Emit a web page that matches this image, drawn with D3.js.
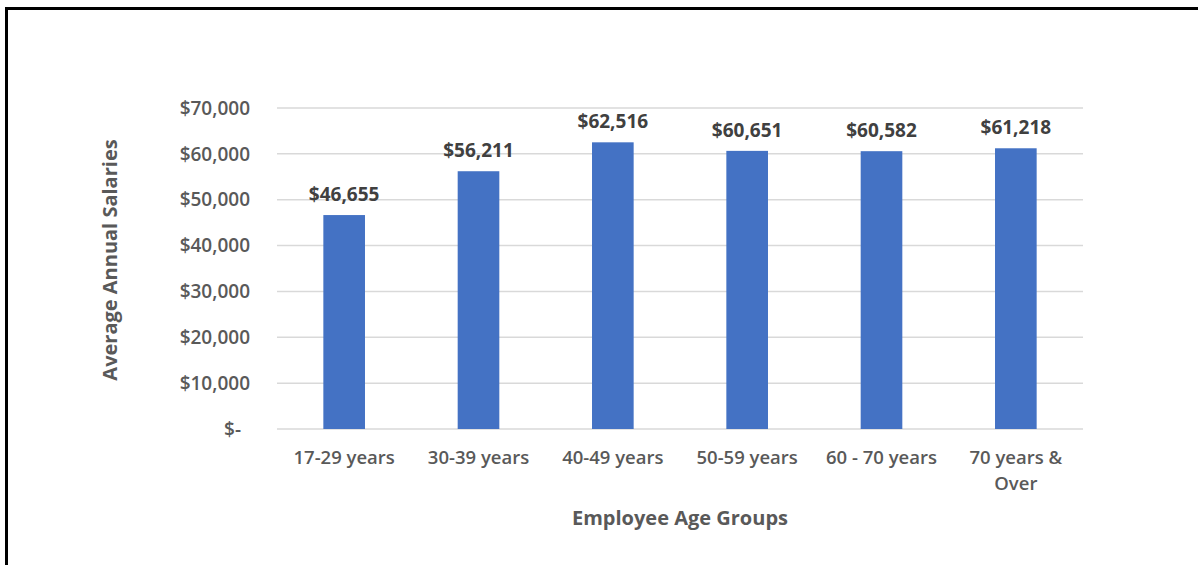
<!DOCTYPE html>
<html>
<head>
<meta charset="utf-8">
<script src="https://cdn.jsdelivr.net/npm/d3@7"></script>
<style>
  body { margin: 0; background: #fff; }
  svg { display: block; font-family: "Open Sans", sans-serif; }
</style>
</head>
<body>
<svg></svg>
<script>
var width = 1198;
var height = 565;

// chart data
var ageGroups = ["17-29 years", "30-39 years", "40-49 years", "50-59 years", "60 - 70 years", "70 years & Over"];
var salaries = [46655, 56211, 62516, 60651, 60582, 61218];
var yTicks = [0, 10000, 20000, 30000, 40000, 50000, 60000, 70000];

var svg = d3.select("svg")
    .attr("width", width)
    .attr("height", height);

// frame (top + left edges visible)
svg.append("line").attr("x1", 5).attr("x2", width).attr("y1", 8.5).attr("y2", 8.5)
    .style("stroke", "#000").style("stroke-width", 3);
svg.append("line").attr("x1", 6.5).attr("x2", 6.5).attr("y1", 7).attr("y2", height)
    .style("stroke", "#000").style("stroke-width", 3);

var plot = { left: 277, right: 1083, top: 108, bottom: 429 };

var x = d3.scaleBand()
    .domain(ageGroups)
    .range([plot.left, plot.right])
    .padding(0);

var y = d3.scaleLinear()
    .domain([0, 70000])
    .range([plot.bottom, plot.top]);

var barW = x.bandwidth() * 0.31;

var fmt = d3.format(",d");
function money(v) { return v === 0 ? "$-" : "$" + fmt(v); }

// gridlines
var g = svg.append("g");
g.selectAll(".grid")
    .data(yTicks)
    .enter().append("line")
    .attr("class", "grid")
    .attr("x1", plot.left)
    .attr("x2", plot.right)
    .attr("y1", function(d) { return y(d); })
    .attr("y2", function(d) { return y(d); })
    .style("stroke", "#d9d9d9")
    .style("stroke-width", 1.5);

// y tick labels
g.selectAll(".ylab")
    .data(yTicks)
    .enter().append("text")
    .attr("class", "ylab")
    .attr("x", function(d) { return d === 0 ? 241 : 250; })
    .attr("y", function(d) { return y(d); })
    .attr("dy", "0.35em")
    .attr("text-anchor", "end")
    .style("font-size", "19px")
    .style("font-weight", 600)
    .style("fill", "#595959")
    .text(money);

// bars
var bars = g.selectAll(".bar")
    .data(salaries)
    .enter().append("g")
    .attr("class", "bar");

bars.append("rect")
    .attr("x", function(d, i) { return x(ageGroups[i]) + x.bandwidth() / 2 - barW / 2; })
    .attr("y", function(d) { return y(d); })
    .attr("width", barW)
    .attr("height", function(d) { return y(0) - y(d); })
    .style("fill", "#4472c4");

bars.append("text")
    .attr("x", function(d, i) { return x(ageGroups[i]) + x.bandwidth() / 2; })
    .attr("y", function(d) { return y(d) - 14; })
    .attr("text-anchor", "middle")
    .style("font-size", "19px")
    .style("font-weight", 700)
    .style("fill", "#404040")
    .text(money);

// x labels (wrap the last one like Excel does)
var xLabelLines = ageGroups.map(function(c) {
  return c === "70 years & Over" ? ["70 years &", "Over"] : [c];
});

var xl = g.selectAll(".xlab")
    .data(ageGroups)
    .enter().append("text")
    .attr("class", "xlab")
    .attr("text-anchor", "middle")
    .style("font-size", "18.5px")
    .style("font-weight", 600)
    .style("fill", "#595959");

xl.each(function(d, i) {
  var t = d3.select(this);
  xLabelLines[i].forEach(function(line, j) {
    t.append("tspan")
      .attr("x", x(d) + x.bandwidth() / 2)
      .attr("y", 464 + j * 26)
      .text(line);
  });
});

// axis titles
svg.append("text")
    .attr("x", 680)
    .attr("y", 525)
    .attr("text-anchor", "middle")
    .style("font-size", "20px")
    .style("font-weight", 700)
    .style("fill", "#595959")
    .text("Employee Age Groups");

svg.append("text")
    .attr("transform", "translate(117,260) rotate(-90)")
    .attr("text-anchor", "middle")
    .style("font-size", "20px")
    .style("font-weight", 700)
    .style("fill", "#595959")
    .text("Average Annual Salaries");
</script>
</body>
</html>
